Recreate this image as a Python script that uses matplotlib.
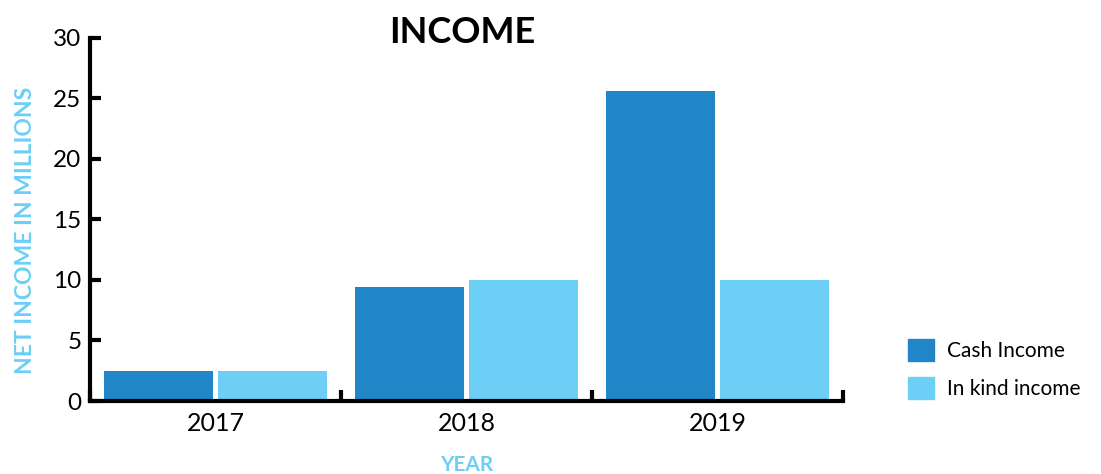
import numpy as np
import matplotlib
matplotlib.use("Agg")
import matplotlib.pyplot as plt
from matplotlib.patches import Patch

years = ["2017", "2018", "2019"]
cash_income = [2.5, 9.4, 25.6]
in_kind_income = [2.5, 10.0, 10.0]
y_ticks = [0, 5, 10, 15, 20, 25, 30]

CASH = "#2086c8"
KIND = "#6dcff6"

plt.rcParams['font.family'] = ['Lato', 'DejaVu Sans']

fig = plt.figure(figsize=(11.01, 4.74), dpi=100)
ax = fig.add_axes([0.0817, 0.154, 0.684, 0.766])

x = np.arange(len(years))
w = 0.434
ax.bar(x - 0.227, cash_income, w, color=CASH, label="Cash Income")
ax.bar(x + 0.227, in_kind_income, w, color=KIND, label="In kind income")

ax.set_xlim(-0.5, len(years) - 0.5)
ax.set_ylim(0, 30)
ax.set_yticks(y_ticks)
ax.set_yticklabels([str(t) for t in y_ticks], fontsize=17.5)

# group labels at centres, tick marks at boundaries
ax.set_xticks(x)
ax.set_xticklabels(years, fontsize=18)
ax.tick_params(axis='x', length=0, pad=8)
ax.set_xticks(np.arange(len(years) + 1) - 0.5, minor=True)
ax.tick_params(axis='x', which='minor', direction='in', length=8, width=3)
ax.tick_params(axis='y', direction='in', length=8, width=3, pad=6)

for s in ["top", "right"]:
    ax.spines[s].set_visible(False)
for s in ["left", "bottom"]:
    ax.spines[s].set_linewidth(3)

ax.set_title("INCOME", fontsize=26, fontweight='bold', pad=-4, x=0.495, y=1.0)
ax.set_ylabel("NET INCOME IN MILLIONS", color=KIND, fontsize=16.5, fontweight='bold')
ax.yaxis.set_label_coords(-0.072, 0.47)
ax.set_xlabel("YEAR", color=KIND, fontsize=15, fontweight='bold', labelpad=14)

handles = [Patch(color=CASH, label="Cash Income"), Patch(color=KIND, label="In kind income")]
fig.legend(handles=handles, loc='center left', bbox_to_anchor=(0.8075, 0.2215),
           frameon=False, fontsize=15, handlelength=1.25, handleheight=1.25,
           handletextpad=0.63, labelspacing=0.77)

fig.savefig("out.png", dpi=100)
